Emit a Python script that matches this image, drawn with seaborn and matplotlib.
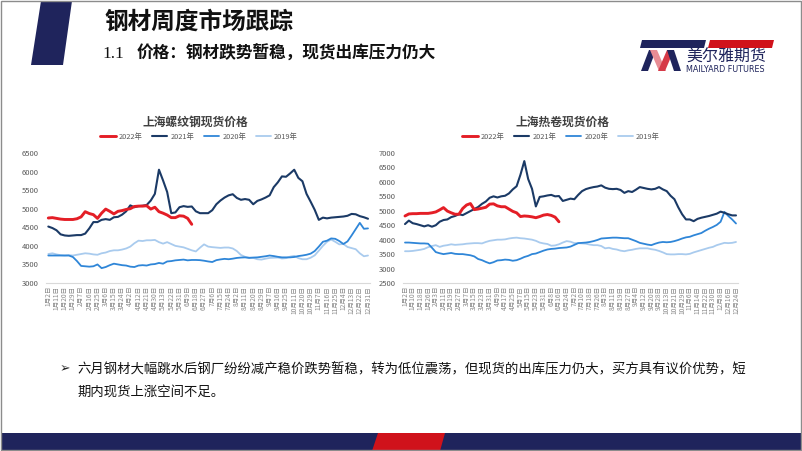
import numpy as np
import pandas as pd
import matplotlib
matplotlib.use("Agg")
import matplotlib.pyplot as plt
import seaborn as sns
from matplotlib.patches import Polygon, Rectangle
from matplotlib.lines import Line2D

sns.set_theme(style="white")
plt.rcParams["font.family"] = ["Noto Sans CJK SC", "DejaVu Sans"]
plt.rcParams["axes.unicode_minus"] = False

# ---------------- data ----------------
years = ["2022年", "2021年", "2020年", "2019年"]

rebar_ticks = ["1月2日", "1月11日", "1月20日", "1月29日", "2月7日", "2月16日", "2月25日", "3月6日",
               "3月15日", "3月24日", "4月2日", "4月12日", "4月21日", "4月30日", "5月13日", "5月22日",
               "5月31日", "6月9日", "6月18日", "6月27日", "7月6日", "7月15日", "7月24日", "8月2日",
               "8月11日", "8月20日", "8月29日", "9月7日", "9月16日", "9月25日", "10月11日", "10月20日",
               "10月29日", "11月7日", "11月16日", "11月25日", "12月4日", "12月13日", "12月22日", "12月31日"]

coil_ticks = ["1月2日", "1月10日", "1月18日", "1月26日", "2月3日", "2月11日", "2月19日", "2月27日",
              "3月7日", "3月15日", "3月23日", "3月31日", "4月9日", "4月17日", "4月25日", "5月7日",
              "5月15日", "5月23日", "5月31日", "6月8日", "6月16日", "6月24日", "7月2日", "7月10日",
              "7月18日", "7月26日", "8月3日", "8月11日", "8月19日", "8月27日", "9月4日", "9月12日",
              "9月20日", "9月28日", "10月13日", "10月21日", "10月29日", "11月6日", "11月14日",
              "11月22日", "11月30日", "12月8日", "12月16日", "12月24日"]

# values sampled every half tick-label interval
rebar_2022 = [4750, 4760, 4740, 4720, 4710, 4710, 4710, 4730, 4780, 4920, 4870, 4840, 4740, 4880,
              4990, 4930, 4860, 4930, 4950, 4980, 5000, 5060, 5070, 5070, 5080, 4990, 5040, 4920,
              4880, 4830, 4760, 4760, 4810, 4800, 4740, 4580]
rebar_2021 = [4520, 4480, 4420, 4310, 4280, 4270, 4280, 4290, 4290, 4330, 4470, 4640, 4640, 4700,
              4720, 4700, 4770, 4780, 4840, 4930, 5090, 5040, 5070, 5080, 5100, 5220, 5400, 6050,
              5760, 5450, 4880, 4900, 5040, 5070, 5050, 5060, 4930, 4880, 4880, 4880, 4960, 5120,
              5220, 5300, 5360, 5390, 5290, 5240, 5260, 5240, 5120, 5210, 5250, 5300, 5360, 5580,
              5710, 5870, 5860, 5950, 6050, 5830, 5740, 5400, 5190, 4970, 4700, 4760, 4740, 4760,
              4770, 4780, 4790, 4810, 4860, 4850, 4800, 4770, 4730]
rebar_2020 = [3740, 3740, 3740, 3740, 3740, 3740, 3700, 3590, 3460, 3450, 3440, 3450, 3500, 3400,
              3430, 3480, 3520, 3500, 3480, 3470, 3440, 3430, 3470, 3480, 3470, 3500, 3510, 3540,
              3520, 3580, 3590, 3610, 3620, 3630, 3610, 3620, 3620, 3615, 3600, 3580, 3565, 3615,
              3635, 3650, 3640, 3655, 3675, 3685, 3690, 3675, 3685, 3690, 3705, 3720, 3740, 3725,
              3705, 3690, 3690, 3690, 3700, 3725, 3740, 3760, 3790, 3860, 3980, 4110, 4140, 4200,
              4190, 4130, 4050, 4120, 4280, 4450, 4620, 4460, 4470]
rebar_2019 = [3780, 3800, 3770, 3750, 3740, 3750, 3740, 3760, 3780, 3800, 3790, 3770, 3760, 3800,
              3820, 3860, 3880, 3880, 3900, 3930, 3980, 4070, 4140, 4130, 4150, 4150, 4160, 4100,
              4060, 4100, 4050, 4000, 3980, 3960, 3920, 3880, 3850, 3950, 4040, 3980, 3965, 3955,
              3945, 3955, 3955, 3930, 3860, 3755, 3705, 3685, 3675, 3640, 3630, 3655, 3675, 3680,
              3685, 3660, 3670, 3710, 3730, 3670, 3640, 3640, 3680, 3745, 3870, 4000, 4110, 4170,
              4110, 4040, 4050, 3970, 3940, 3910, 3800, 3720, 3740]

coil_2022 = [4820, 4890, 4900, 4900, 4910, 4910, 4910, 4930, 4960, 5030, 5110, 4990, 4930, 4880,
             4880, 5080, 5200, 5250, 5040, 5060, 5090, 5120, 5230, 5240, 5170, 5140, 5140, 5060,
             4980, 4930, 4800, 4820, 4810, 4790, 4760, 4800, 4850, 4870, 4840, 4780, 4620]
coil_2021 = [4540, 4660, 4570, 4540, 4500, 4460, 4500, 4450, 4500, 4620, 4680, 4700, 4780, 4820,
             4880, 4850, 4920, 4990, 5060, 5130, 5240, 5320, 5450, 5500, 5460, 5500, 5520, 5600,
             5740, 5850, 6250, 6720, 6100, 5760, 5150, 5480, 5500, 5530, 5550, 5500, 5510, 5340,
             5380, 5420, 5400, 5550, 5680, 5750, 5790, 5820, 5840, 5880, 5800, 5760, 5750, 5760,
             5720, 5620, 5680, 5650, 5730, 5820, 5790, 5760, 5740, 5760, 5820, 5740, 5680, 5520,
             5400, 5120, 4880, 4700, 4700, 4640, 4720, 4760, 4790, 4820, 4860, 4900, 4970, 4930,
             4880, 4840, 4840]
coil_2020 = [3900, 3900, 3890, 3880, 3870, 3870, 3860, 3720, 3570, 3530, 3500, 3520, 3540, 3510,
             3500, 3500, 3480, 3460, 3420, 3330, 3290, 3230, 3180, 3220, 3280, 3290, 3310, 3300,
             3270, 3290, 3340, 3400, 3440, 3500, 3520, 3570, 3620, 3660, 3680, 3690, 3710, 3720,
             3730, 3760, 3820, 3880, 3890, 3900, 3920, 3950, 3990, 4040, 4050, 4060, 4070, 4070,
             4060, 4050, 4050, 4000, 3950, 3890, 3860, 3830, 3810, 3860, 3900, 3920, 3910, 3920,
             3950, 3990, 4040, 4080, 4100, 4150, 4190, 4230, 4310, 4380, 4440, 4510, 4620, 4960,
             4820, 4700, 4560]
coil_2019 = [3600, 3600, 3610, 3630, 3650, 3680, 3740, 3780, 3810, 3750, 3790, 3810, 3840, 3820,
             3830, 3840, 3860, 3870, 3880, 3880, 3870, 3920, 3960, 3980, 4000, 4000, 4010, 4040,
             4060, 4070, 4050, 4040, 4020, 4000, 3960, 3900, 3870, 3850, 3790, 3800, 3840, 3900,
             3950, 3930, 3880, 3880, 3870, 3860, 3830, 3810, 3810, 3780, 3700, 3720, 3680, 3660,
             3620, 3600, 3630, 3650, 3680, 3700, 3700, 3700, 3670, 3650, 3610, 3560, 3500, 3490,
             3490, 3500, 3500, 3490, 3510, 3560, 3600, 3640, 3680, 3720, 3750, 3810, 3850, 3890,
             3880, 3890, 3920]

colors = {"2022年": "#E41E26", "2021年": "#1B3A66", "2020年": "#2F86D8", "2019年": "#A9CBEE"}
widths = {"2022年": 2.1, "2021年": 1.5, "2020年": 1.3, "2019年": 1.3}


def long_df(series):
    frames = []
    for name, vals in series.items():
        frames.append(pd.DataFrame({"pos": np.arange(len(vals)) * 0.5, "price": vals, "year": name}))
    return pd.concat(frames, ignore_index=True)


rebar_df = long_df({"2022年": rebar_2022, "2021年": rebar_2021, "2020年": rebar_2020, "2019年": rebar_2019})
coil_df = long_df({"2022年": coil_2022, "2021年": coil_2021, "2020年": coil_2020, "2019年": coil_2019})

# ---------------- figure ----------------
W, H = 802, 451
fig = plt.figure(figsize=(W / 100, H / 100), dpi=100)
fig.patch.set_facecolor("white")


def P(x, y):
    return (x / W, 1 - y / H)


NAVY = "#1F245C"
RED = "#D0121B"


def poly(pts, color):
    fig.patches.append(Polygon([P(*p) for p in pts], closed=True, transform=fig.transFigure,
                               facecolor=color, edgecolor="none", zorder=5))


# slide border
fig.patches.append(Rectangle((0.0008, 0.0012), 0.998, 0.997, transform=fig.transFigure,
                             fill=False, edgecolor="#8C8C8C", lw=1.0, zorder=10))
# top-left navy block
poly([(41, 1), (72, 1), (63, 65), (31, 65)], NAVY)
# title & subtitle
fig.text(*P(104, 22), "钢材周度市场跟踪", fontsize=17, fontweight="bold", color="#111111",
         ha="left", va="center")
fig.text(*P(102, 54), "1.1", fontsize=12.5, family="Liberation Serif", color="#111111",
         ha="left", va="center")
fig.text(*P(137, 54), "价格：钢材跌势暂稳，现货出库压力仍大", fontsize=12, fontweight="bold",
         color="#111111", ha="left", va="center")

# logo
poly([(642, 40), (706, 40), (704, 48), (640, 48)], NAVY)
poly([(710, 40), (774, 40), (772, 48), (708, 48)], RED)
poly([(641, 71), (649, 50), (656, 50), (648, 71)], NAVY)
poly([(650, 50), (657, 50), (666, 71), (659, 71)], "#E88C94")
poly([(658, 71), (667, 50), (674, 50), (665, 71)], "#D63A48")
poly([(667, 50), (674, 50), (681, 71), (674, 71)], NAVY)
fig.text(*P(686, 57), "美尔雅期货", fontsize=11.5, color=NAVY, ha="left", va="center")
fig.text(*P(686, 70), "MAILYARD FUTURES", fontsize=5.8, color=NAVY, ha="left", va="center",
         family="DejaVu Sans")

# bottom bar
fig.patches.append(Rectangle(P(1, 451), (W - 2) / W, 18 / H, transform=fig.transFigure,
                             facecolor=NAVY, edgecolor="none", zorder=5))
poly([(378, 433), (445, 433), (440, 451), (372, 451)], RED)

# bullet text
fig.text(*P(60, 369), "➢", fontsize=9, family="DejaVu Sans", color="#222222", ha="left", va="center")
fig.text(*P(77, 369), "六月钢材大幅跳水后钢厂纷纷减产稳价跌势暂稳，转为低位震荡，但现货的出库压力仍大，买方具有议价优势，短",
         fontsize=9.6, color="#111111", ha="left", va="center")
fig.text(*P(77, 393), "期内现货上涨空间不足。", fontsize=9.6, color="#111111", ha="left", va="center")


# ---------------- charts ----------------
def make_chart(df, ticks, x0, x1, ymin, ymax, yticks, title, title_cx, legend_cx):
    n = len(ticks) - 1
    step = (x1 - x0) / n
    lo, hi = -0.3, n + 0.2
    left = x0 + lo * step
    right = x0 + hi * step
    ax = fig.add_axes([left / W, 1 - 283 / H, (right - left) / W, 130 / H])
    for name in ["2019年", "2020年", "2021年", "2022年"]:
        sub = df[df["year"] == name]
        sns.lineplot(data=sub, x="pos", y="price", ax=ax, color=colors[name],
                     lw=widths[name], legend=False, estimator=None, sort=False)
    ax.set_xlim(lo, hi)
    ax.set_ylim(ymin, ymax)
    ax.set_xlabel("")
    ax.set_ylabel("")
    ax.set_yticks(yticks)
    ax.set_yticklabels([str(v) for v in yticks], fontsize=5.5, color="#595959")
    ax.set_xticks(range(len(ticks)))
    ax.set_xticklabels(ticks, rotation=90, fontsize=4.8, color="#8A8A8A", va="top", ha="center")
    ax.tick_params(axis="both", length=0)
    ax.tick_params(axis="y", pad=5)
    ax.tick_params(axis="x", pad=2)
    for s in ["left", "right", "top"]:
        ax.spines[s].set_visible(False)
    ax.spines["bottom"].set_color("#D9D9D9")
    ax.spines["bottom"].set_linewidth(0.8)
    ax.grid(False)
    ax.set_facecolor("none")
    fig.text(*P(title_cx, 122), title, fontsize=8.5, fontweight="bold", color="#404040",
             ha="center", va="center")
    handles = [Line2D([], [], color=colors[y], lw=widths[y]) for y in years]
    fig.legend(handles, years, loc="center", bbox_to_anchor=P(legend_cx, 137),
               bbox_transform=fig.transFigure, ncol=4, frameon=False, fontsize=5.3,
               handlelength=2.1, columnspacing=1.3, handletextpad=0.4, labelcolor="#595959")
    return ax


make_chart(rebar_df, rebar_ticks, 48.3, 368, 3000, 6500, list(range(3000, 6501, 500)),
           "上海螺纹钢现货价格", 195, 199)
make_chart(coil_df, coil_ticks, 405, 736, 2500, 7000, list(range(2500, 7001, 500)),
           "上海热卷现货价格", 562, 561)

fig.savefig("out.png", dpi=100, facecolor="white")
